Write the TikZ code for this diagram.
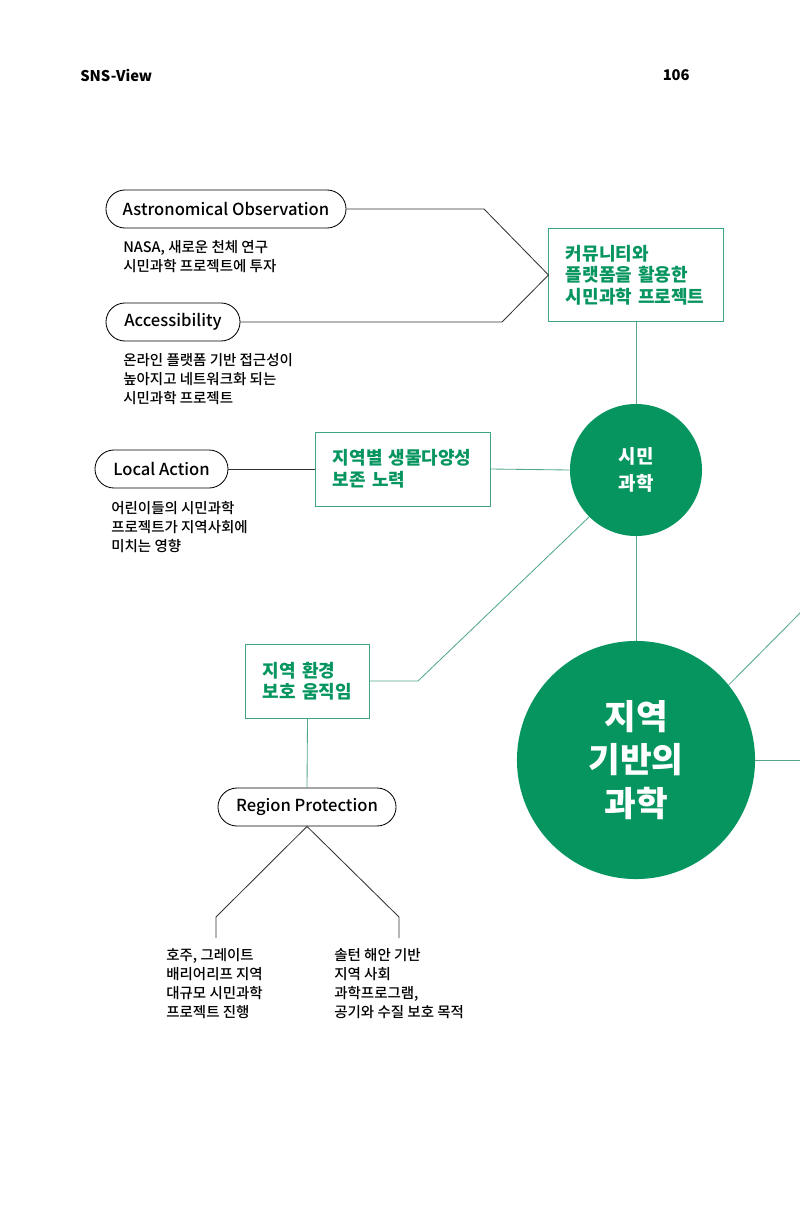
\documentclass[tikz,border=0pt]{standalone}
\usepackage{fontspec}
\setmainfont{Noto Sans CJK KR}
\newfontfamily\medfont{Noto Sans CJK KR Medium}
\usepackage{tikz}
\usetikzlibrary{
  shapes.misc,
  positioning,
  calc
}
\usepackage{xcolor}
\definecolor{geogreen}{HTML}{06955F}
\definecolor{boxgreen}{HTML}{3DA67E}
\definecolor{linegreen}{HTML}{52A888}
\definecolor{darkline}{HTML}{333333}
\tikzset{
  pill/.style={
    rounded rectangle, draw=black, line width=0.6pt,
    minimum height=0.95cm, inner xsep=0pt,
    font=\medfont\fontsize{11.8}{14}\selectfont
  },
  gbox/.style={
    rectangle, draw=boxgreen, line width=0.7pt,
    inner xsep=0.425cm, align=left, text=geogreen,
    font=\fontsize{12.8}{15.3}\selectfont\bfseries
  },
  hub/.style={
    circle, fill=geogreen, text=white, align=center, inner sep=0pt,
    font=\bfseries
  },
  note/.style={
    anchor=north west, inner sep=0pt, align=left,
    font=\medfont\fontsize{10.3}{13.5}\selectfont
  },
  gline/.style={draw=linegreen, line width=0.6pt},
  kline/.style={draw=darkline, line width=0.6pt},
}

\begin{document}
\begin{tikzpicture}[x=0.025cm, y=-0.025cm]
\useasboundingbox (0,0) rectangle (800,1216);

% page header
\node[anchor=west, inner sep=0pt, font=\fontsize{10.5}{12}\selectfont\bfseries] (title) at (80,75) {SNS-View};
\node[anchor=east, inner sep=0pt, font=\fontsize{10.5}{12}\selectfont\bfseries] (page) at (690,75) {106};

% hubs
\node[hub, minimum size=3.3cm, font=\fontsize{13.5}{19}\selectfont\bfseries] (citizen) at (636,470) {시민\\과학};
\node[hub, minimum size=5.95cm, font=\fontsize{24.5}{31}\selectfont\bfseries] (local) at (636,760) {지역\\기반의\\과학};

% green boxes
\node[gbox, text width=3.5cm, minimum height=2.3cm] (platform) at (636,275) {커뮤니티와\\플랫폼을 활용한\\시민과학 프로젝트};
\node[gbox, text width=3.5cm, minimum height=1.85cm] (biodiv) at (403,469) {지역별 생물다양성\\보존 노력};
\node[gbox, text width=2.225cm, minimum height=1.85cm] (envmove) at (307.5,681) {지역 환경\\보호 움직임};

% pills
\node[pill, minimum width=6cm] (astro) at (226,209) {Astronomical Observation};
\node[pill, minimum width=3.35cm] (access) at (173,322) {Accessibility};
\node[pill, minimum width=3.325cm] (action) at (161.5,469) {Local Action};
\node[pill, minimum width=4.45cm] (region) at (307,807) {Region Protection};

% notes
\node[note] (astronote) at (123,240) {NASA, 새로운 천체 연구\\시민과학 프로젝트에 투자};
\node[note] (accessnote) at (123,353) {온라인 플랫폼 기반 접근성이\\높아지고 네트워크화 되는\\시민과학 프로젝트};
\node[note] (actionnote) at (111,501) {어린이들의 시민과학\\프로젝트가 지역사회에\\미치는 영향};
\node[note] (reefnote) at (166,948) {호주, 그레이트\\배리어리프 지역\\대규모 시민과학\\프로젝트 진행};
\node[note] (saltonnote) at (334,948) {솔턴 해안 기반\\지역 사회\\과학프로그램,\\공기와 수질 보호 목적};

% free ends
\coordinate (reefend) at (216,938);
\coordinate (saltonend) at (399,938);
\coordinate (outup) at (805,608);
\coordinate (outright) at (805,760);

% connectors
\draw[kline] (astro.east) -- (484,209) -- (platform.west);
\draw[kline] (access.east) -- (502,322) -- (platform.west);
\draw[kline] (action.east) -- (biodiv.west);
\draw[kline] (region.south) -- (216,917) -- (reefend);
\draw[kline] (region.south) -- (399,917) -- (saltonend);

\draw[gline] (platform.south) -- (citizen.north);
\draw[gline] (biodiv.east) -- (citizen.west);
\draw[gline] (envmove.east) -- (418,681) -- (citizen.225);
\draw[gline] (envmove.south) -- (region.north);
\draw[gline] (citizen.south) -- (local.north);
\draw[gline] (local.39) -- (outup);
\draw[gline] (local.east) -- (outright);

\end{tikzpicture}
\end{document}
